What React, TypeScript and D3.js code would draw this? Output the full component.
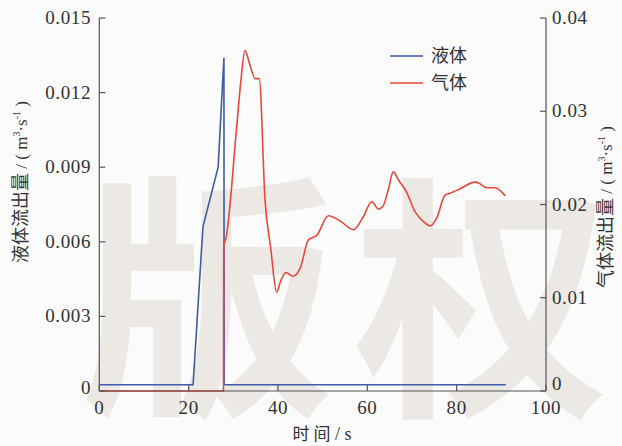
import React from "react";
import * as d3 from "d3";

const liquidT = [0, 21.0, 23.2, 26.6, 27.9, 27.95, 91];
const liquidV = [0.00025, 0.00025, 0.0066, 0.009, 0.0134, 0.00025, 0.00025];

const gasT = [0, 27.8, 27.85, 28.4, 30.7, 31.7, 32.6, 33.7, 34.9, 35.8, 37.1, 38.4, 39.7, 40.6, 41.8, 43.3, 45, 46.8, 48.7, 51.3, 54, 56.9, 59, 61, 62.5, 63.5, 64.7, 65.8, 67, 68.7, 70.7, 72.5, 74.1, 75.5, 77.4, 78.5, 80.8, 84.1, 84.9, 86.8, 88.6, 90.9];
const gasV = [0, 0, 0.0155, 0.0165, 0.028, 0.0333, 0.0365, 0.035, 0.0335, 0.0335, 0.0205, 0.0152, 0.0106, 0.0118, 0.0127, 0.0123, 0.0132, 0.0162, 0.0167, 0.0188, 0.0182, 0.0173, 0.0186, 0.0203, 0.0195, 0.0198, 0.0216, 0.0235, 0.0226, 0.0214, 0.0192, 0.0182, 0.0177, 0.0185, 0.021, 0.0212, 0.0217, 0.0224, 0.0223, 0.0218, 0.0218, 0.0209];

const xTicks = [0, 20, 40, 60, 80, 100];
const leftTicks = [0, 0.003, 0.006, 0.009, 0.012, 0.015];
const leftLabels = ["0", "0.003", "0.006", "0.009", "0.012", "0.015"];
const rightTicks = [0, 0.01, 0.02, 0.03, 0.04];
const rightLabels = ["0", "0.01", "0.02", "0.03", "0.04"];

const BLUE = "#3f5ba9";
const RED = "#e8473a";
const AXIS = "#555";
const TEXT = "#333";
const SERIF = "'Liberation Serif', 'Times New Roman', Tinos, 'DejaVu Serif', 'Noto Serif', 'Noto Serif CJK SC', serif";
const CJK = "'Noto Sans CJK SC', sans-serif";

function AxisTitle({ cx, cy, cn }: { cx: number; cy: number; cn: string }) {
  return (
    <text transform={`translate(${cx},${cy}) rotate(-90)`} textAnchor="middle" fill={TEXT}>
      <tspan style={{ fontFamily: CJK, fontSize: 18 }}>{cn}</tspan>
      <tspan style={{ fontFamily: SERIF, fontSize: 17 }}> / ( m</tspan>
      <tspan style={{ fontFamily: SERIF, fontSize: 10 }} dy={-7}>3</tspan>
      <tspan style={{ fontFamily: SERIF, fontSize: 17 }} dy={7}>·s</tspan>
      <tspan style={{ fontFamily: SERIF, fontSize: 10 }} dy={-7}>-1</tspan>
      <tspan style={{ fontFamily: SERIF, fontSize: 17 }} dy={7}> )</tspan>
    </text>
  );
}

export default function App() {
  const L = 99.3, R = 546, T = 18, B = 391;
  const x = d3.scaleLinear().domain([0, 100]).range([L, R]);
  const yL = d3.scaleLinear().domain([0, 0.015]).range([B, T]);
  const yR = d3.scaleLinear().domain([0, 0.04]).range([B, T]);

  const liquidLine = d3.line<number>()
    .x((_, i) => x(liquidT[i]))
    .y((v) => yL(v))
    .curve(d3.curveLinear)(liquidV) || "";
  const gasLine = d3.line<number>()
    .x((_, i) => x(gasT[i]))
    .y((v) => yR(v))
    .curve(d3.curveMonotoneX)(gasV) || "";

  const tick = 6;
  const numStyle = { fontFamily: SERIF, fontSize: 19, letterSpacing: 0.6 };
  return (
    <svg width={622} height={446} style={{ position: "absolute", left: 0, top: 0, background: "#fbfbfb" }}>
      <rect x={0} y={0} width={622} height={446} fill="#fbfbfb" />
      <g fill="#ece8e4" style={{ fontFamily: CJK, fontWeight: 600, fontSize: 256 }}>
        <text x={80} y={394}>版</text>
        <text x={354} y={396}>权</text>
      </g>
      <path d={liquidLine} fill="none" stroke={BLUE} strokeWidth={1.6} />
      <path d={gasLine} fill="none" stroke={RED} strokeWidth={1.6} />
      <g stroke={AXIS} strokeWidth={1.2} fill="none">
        <line x1={L} y1={T} x2={L} y2={B} />
        <line x1={R} y1={T} x2={R} y2={B} />
        <line x1={L} y1={B} x2={R} y2={B} />
        {xTicks.map((t) => (
          <line key={"xt" + t} x1={x(t)} x2={x(t)} y1={B} y2={B - tick} />
        ))}
        {leftTicks.map((t) => (
          <line key={"lt" + t} x1={L} x2={L + tick} y1={yL(t)} y2={yL(t)} />
        ))}
        {rightTicks.map((t) => (
          <line key={"rt" + t} x1={R} x2={R - tick} y1={yR(t)} y2={yR(t)} />
        ))}
      </g>
      <g fill={TEXT}>
        {xTicks.map((t) => (
          <text key={"xl" + t} x={x(t)} y={414} textAnchor="middle" style={numStyle}>{t}</text>
        ))}
        {leftTicks.map((t, i) => (
          <text key={"ll" + t} x={91} y={yL(t) + (i === 0 ? 3 : 6)} textAnchor="end" style={numStyle}>{leftLabels[i]}</text>
        ))}
        {rightTicks.map((t, i) => (
          <text key={"rl" + t} x={552} y={yR(t) + (i === 0 ? -1 : 6)} textAnchor="start" style={numStyle}>{rightLabels[i]}</text>
        ))}
      </g>
      <text x={322} y={440} textAnchor="middle" fill={TEXT}>
        <tspan style={{ fontFamily: CJK, fontSize: 17 }}>时 间</tspan>
        <tspan style={{ fontFamily: SERIF, fontSize: 18 }}> / s</tspan>
      </text>
      <AxisTitle cx={27} cy={182} cn="液体流出量" />
      <AxisTitle cx={612} cy={207} cn="气体流出量" />
      <line x1={390} x2={423} y1={56} y2={56} stroke={BLUE} strokeWidth={1.6} />
      <line x1={390} x2={423} y1={83} y2={83} stroke={RED} strokeWidth={1.6} />
      <g fill={TEXT} style={{ fontFamily: CJK, fontSize: 18 }}>
        <text x={431} y={62}>液体</text>
        <text x={431} y={89}>气体</text>
      </g>
    </svg>
  );
}
